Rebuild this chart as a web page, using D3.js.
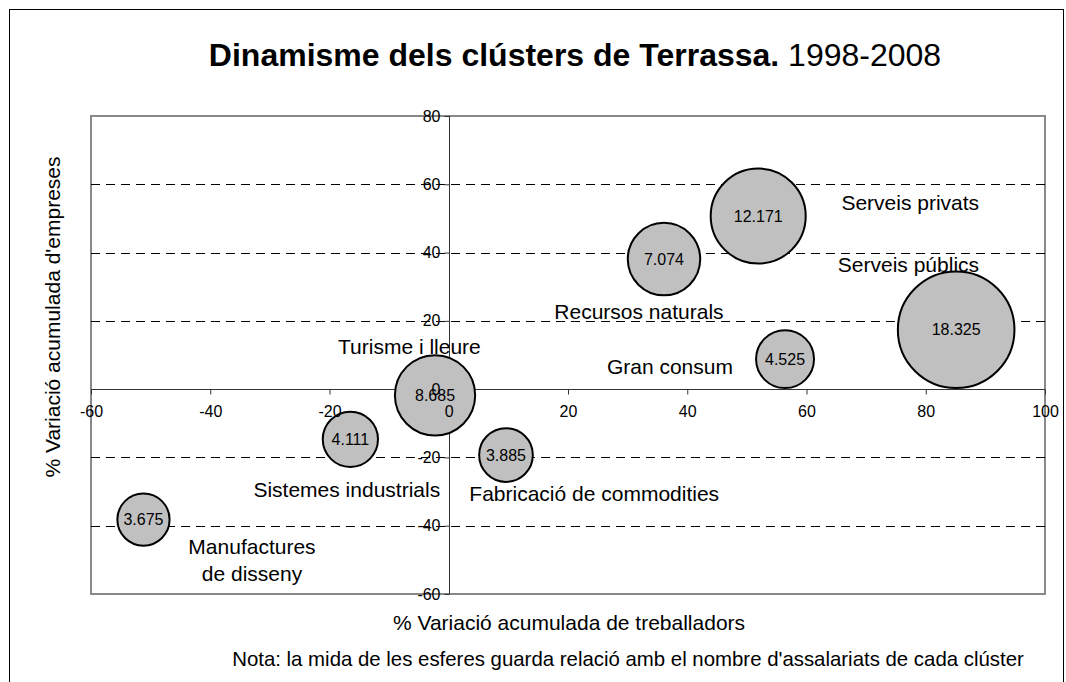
<!DOCTYPE html>
<html lang="ca">
<head>
<meta charset="UTF-8">
<title>Dinamisme dels clústers de Terrassa</title>
<script src="https://d3js.org/d3.v7.min.js"></script>
<style>
  body { margin: 0; background: #fff; }
  svg { display: block; font-family: "Liberation Sans", Arial, sans-serif; }
  .axis path, .axis line { stroke: #333; }
  .axis text { font-size: 16px; fill: #000; }
</style>
</head>
<body>
<svg id="chart" width="1066" height="682"></svg>
<script>
  // dades dels clústers
  const clusterLabels = [
    ["Manufactures", "de disseny"],
    ["Sistemes industrials"],
    ["Turisme i lleure"],
    ["Fabricació de commodities"],
    ["Recursos naturals"],
    ["Serveis privats"],
    ["Gran consum"],
    ["Serveis públics"]
  ];
  const treballadors = [-51.2, -16.5, -2.3, 9.6, 36.1, 51.9, 56.4, 85.1];
  const empreses = [-38.2, -14.7, -1.8, -19.3, 38.1, 50.7, 8.8, 17.4];
  const assalariats = [3675, 4111, 8685, 3885, 7074, 12171, 4525, 18325];
  // on va el nom de cada clúster (en unitats dels eixos)
  const labelX = [-33.0, -17.1, -6.6, 24.4, 31.9, 77.4, 37.1, 77.1];
  const labelY = [-50.1, -29.3, 12.3, -30.5, 22.8, 54.5, 6.7, 36.6];

  const xTicks = [-60, -40, -20, 0, 20, 40, 60, 80, 100];
  const yTicks = [-60, -40, -20, 0, 20, 40, 60, 80];
  const gridLines = [60, 40, 20, -20, -40];

  const data = clusterLabels.map((lines, i) => ({
    lines, x: treballadors[i], y: empreses[i], size: assalariats[i],
    lx: labelX[i], ly: labelY[i]
  }));

  const ca = d3.formatLocale({decimal: ",", thousands: ".", grouping: [3], currency: ["", " €"], minus: "-"});
  const fmt = ca.format(",d");
  const tickFmt = ca.format("d");

  const svg = d3.select("#chart");
  const pLeft = 91, pRight = 1045, pTop = 116, pBottom = 594;

  const x = d3.scaleLinear().domain([-60, 100]).range([pLeft, pRight]);
  const y = d3.scaleLinear().domain([-60, 80]).range([pBottom, pTop]);
  const r = d3.scaleSqrt().domain([0, 18325]).range([0, 58.3]);

  const x0 = Math.round(x(0)) + 0.5;
  const y0 = Math.round(y(0)) + 0.5;

  // marc exterior
  svg.append("rect")
    .attr("x", 9.5).attr("y", 9.5)
    .attr("width", 1054).attr("height", 700)
    .attr("fill", "none").attr("stroke", "#000");

  // títol
  const title = svg.append("text")
    .attr("x", 575).attr("y", 66)
    .attr("text-anchor", "middle")
    .attr("font-size", 32);
  title.append("tspan").attr("font-weight", "bold").text("Dinamisme dels clústers de Terrassa.");
  title.append("tspan").text(" 1998-2008");

  // àrea del gràfic
  svg.append("rect")
    .attr("x", pLeft).attr("y", pTop)
    .attr("width", pRight - pLeft).attr("height", pBottom - pTop)
    .attr("fill", "none").attr("stroke", "#888").attr("stroke-width", 2);

  svg.append("g")
    .selectAll("line")
    .data(gridLines)
    .join("line")
    .attr("x1", pLeft).attr("x2", pRight)
    .attr("y1", d => Math.round(y(d)) + 0.5).attr("y2", d => Math.round(y(d)) + 0.5)
    .attr("stroke", "#000")
    .attr("stroke-dasharray", "9,6");

  // línies dels eixos (sota les esferes)
  svg.append("g")
    .attr("class", "axis")
    .attr("transform", `translate(0,${y0})`)
    .call(d3.axisBottom(x).tickValues(xTicks).tickSize(5).tickSizeOuter(0).tickFormat(""))
    .call(g => g.select(".domain").attr("d", `M${pLeft},0H${pRight}`));

  svg.append("g")
    .attr("class", "axis")
    .attr("transform", `translate(${x0},0)`)
    .call(d3.axisLeft(y).tickValues(yTicks).tickSize(5).tickSizeOuter(0).tickFormat(""))
    .call(g => g.select(".domain").attr("d", `M0,${pTop}V${pBottom}`));

  // esferes
  const bubbles = svg.append("g");
  bubbles.selectAll("circle")
    .data(data)
    .join("circle")
    .attr("cx", d => x(d.x))
    .attr("cy", d => y(d.y))
    .attr("r", d => r(d.size))
    .attr("fill", "#c0c0c0")
    .attr("stroke", "#000")
    .attr("stroke-width", 2);

  bubbles.selectAll("text")
    .data(data)
    .join("text")
    .attr("x", d => x(d.x))
    .attr("y", d => y(d.y))
    .attr("dy", "0.35em")
    .attr("text-anchor", "middle")
    .attr("font-size", 16)
    .text(d => fmt(d.size));

  // etiquetes dels eixos (per sobre)
  svg.append("g")
    .attr("class", "axis")
    .attr("transform", `translate(0,${y0})`)
    .call(d3.axisBottom(x).tickValues(xTicks).tickFormat(tickFmt).tickSize(5).tickPadding(11))
    .call(g => g.select(".domain").remove())
    .call(g => g.selectAll(".tick line").remove());

  svg.append("g")
    .attr("class", "axis")
    .attr("transform", `translate(${x0},0)`)
    .call(d3.axisLeft(y).tickValues(yTicks).tickFormat(tickFmt).tickSize(5).tickPadding(4))
    .call(g => g.select(".domain").remove())
    .call(g => g.selectAll(".tick line").remove());

  svg.selectAll(".axis").attr("font-family", null).attr("font-size", null);

  // noms dels clústers
  svg.append("g")
    .selectAll("text")
    .data(data)
    .join("text")
    .attr("text-anchor", "middle")
    .attr("font-size", 21)
    .attr("x", d => x(d.lx))
    .attr("y", d => y(d.ly))
    .each(function(d) {
      const t = d3.select(this);
      const n = d.lines.length;
      d.lines.forEach((line, i) => {
        t.append("tspan")
          .attr("x", x(d.lx))
          .attr("dy", i === 0 ? `${0.35 - (n - 1) * 0.65}em` : "1.3em")
          .text(line);
      });
    });

  // títols dels eixos
  svg.append("text")
    .attr("x", 569).attr("y", 630)
    .attr("text-anchor", "middle")
    .attr("font-size", 21)
    .text("% Variació acumulada de treballadors");

  svg.append("text")
    .attr("transform", "translate(60,317) rotate(-90)")
    .attr("text-anchor", "middle")
    .attr("font-size", 21)
    .text("% Variació acumulada d'empreses");

  svg.append("text")
    .attr("x", 628).attr("y", 666)
    .attr("text-anchor", "middle")
    .attr("font-size", 20.4)
    .text("Nota: la mida de les esferes guarda relació amb el nombre d'assalariats de cada clúster");
</script>
</body>
</html>
